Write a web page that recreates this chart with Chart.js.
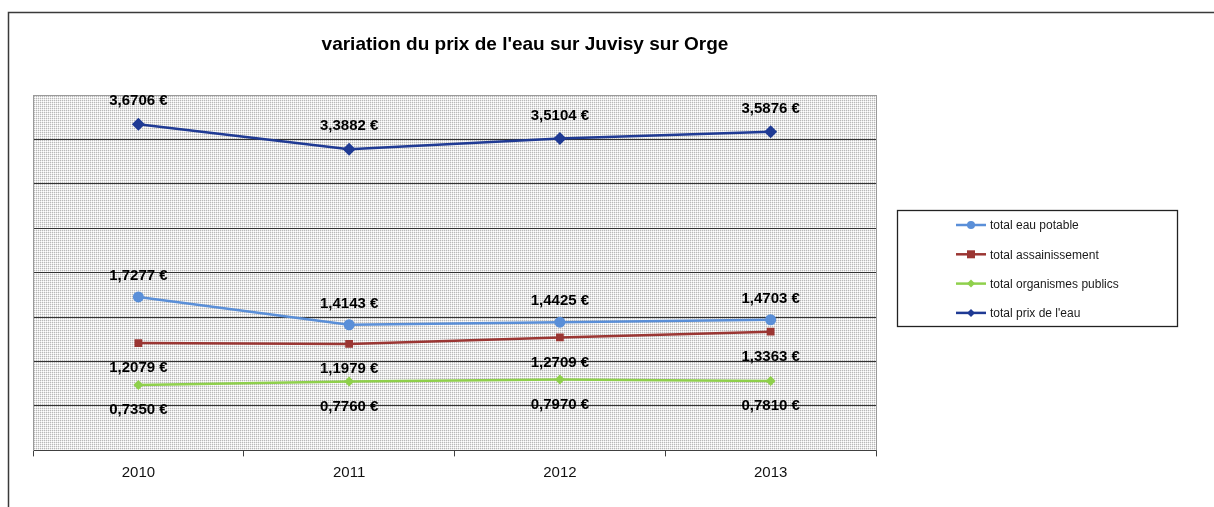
<!DOCTYPE html>
<html>
<head>
<meta charset="utf-8">
<script src="https://cdn.jsdelivr.net/npm/chart.js@4"></script>
<style>
  html, body { margin: 0; padding: 0; background: #ffffff; }
  #wrap { width: 1214px; height: 507px; position: relative; }
</style>
</head>
<body>
<div id="wrap"><canvas id="c" width="1214" height="507"></canvas></div>
<script>
const years = ['2010', '2011', '2012', '2013'];
const eauPotable = [1.7277, 1.4143, 1.4425, 1.4703];
const assainissement = [1.2079, 1.1979, 1.2709, 1.3363];
const organismes = [0.7350, 0.7760, 0.7970, 0.7810];
const prixTotal = [3.6706, 3.3882, 3.5104, 3.5876];
const seriesNames = ['total eau potable', 'total assainissement', 'total organismes publics', "total prix de l'eau"];
const yTicks = [0, 0.5, 1, 1.5, 2, 2.5, 3, 3.5, 4];
const titleText = "variation du prix de l'eau sur Juvisy sur Orge";

const FONT = '"Liberation Sans", Arial, sans-serif';

// fine grey stipple used as the plot background
function makeStipple() {
  const t = document.createElement('canvas');
  t.width = 2; t.height = 2;
  const g = t.getContext('2d');
  g.fillStyle = '#ffffff'; g.fillRect(0, 0, 2, 2);
  g.fillStyle = '#b8b8b8'; g.fillRect(0, 0, 1, 1);
  g.fillStyle = '#e8e8e8'; g.fillRect(1, 0, 1, 1); g.fillRect(0, 1, 1, 1);
  return t;
}

const fmt = v => v.toFixed(4).replace('.', ',') + ' €';

const decorations = {
  id: 'decorations',
  beforeDraw(chart) {
    const { ctx, chartArea: a } = chart;
    ctx.save();
    ctx.fillStyle = ctx.createPattern(makeStipple(), 'repeat');
    ctx.fillRect(a.left, a.top, a.right - a.left, a.bottom - a.top);
    ctx.restore();
  },
  afterDatasetsDraw(chart) {
    const { ctx, chartArea: a } = chart;
    ctx.save();
    // right edge of the plot
    ctx.strokeStyle = '#9a9a9a';
    ctx.lineWidth = 1;
    ctx.beginPath();
    ctx.moveTo(a.right + 0.5, a.top);
    ctx.lineTo(a.right + 0.5, a.bottom);
    ctx.stroke();

    // value labels: above for eau potable and total, below for the others
    ctx.font = 'bold 15px ' + FONT;
    ctx.fillStyle = '#000000';
    ctx.textAlign = 'center';
    ctx.textBaseline = 'middle';
    const offsets = [-21, 25, 25, -23];
    chart.data.datasets.forEach((ds, i) => {
      const meta = chart.getDatasetMeta(i);
      meta.data.forEach((pt, j) => {
        ctx.fillText(fmt(ds.data[j]), pt.x, pt.y + offsets[i]);
      });
    });

    // title
    ctx.font = 'bold 19px ' + FONT;
    ctx.fillText(titleText, 525, 45);

    // outer frame
    ctx.strokeStyle = '#3a3a3a';
    ctx.lineWidth = 1.5;
    ctx.beginPath();
    ctx.moveTo(8.5, 507);
    ctx.lineTo(8.5, 12.5);
    ctx.lineTo(1214, 12.5);
    ctx.stroke();

    // legend box
    const lx = 897, ly = 210, lw = 280, lh = 116;
    ctx.strokeStyle = '#222222';
    ctx.lineWidth = 1.3;
    ctx.strokeRect(lx + 0.5, ly + 0.5, lw, lh);
    ctx.font = '12px ' + FONT;
    ctx.textAlign = 'left';
    chart.data.datasets.forEach((ds, i) => {
      const y = 225 + i * 29.3;
      ctx.strokeStyle = ds.borderColor;
      ctx.lineWidth = 2.5;
      ctx.beginPath();
      ctx.moveTo(956, y);
      ctx.lineTo(986, y);
      ctx.stroke();
      ctx.fillStyle = ds.pointBackgroundColor;
      const r = 4;
      ctx.beginPath();
      if (ds.pointStyle === 'circle') {
        ctx.arc(971, y, r, 0, Math.PI * 2);
      } else if (ds.pointStyle === 'rect') {
        ctx.rect(971 - r, y - r, 2 * r, 2 * r);
      } else {
        ctx.moveTo(971, y - r); ctx.lineTo(971 + r, y);
        ctx.lineTo(971, y + r); ctx.lineTo(971 - r, y);
        ctx.closePath();
      }
      ctx.fill();
      ctx.fillStyle = '#1a1a1a';
      ctx.fillText(ds.label, 990, y + 1);
    });
    ctx.restore();
  }
};

const colors = ['#5a8fd8', '#9b3633', '#8fd04c', '#1f3a94'];
const styles = ['circle', 'rect', 'rectRot', 'rectRot'];
const radii = [5.5, 5.5, 5, 6.5];
const values = [eauPotable, assainissement, organismes, prixTotal];

new Chart(document.getElementById('c'), {
  type: 'line',
  data: {
    labels: years,
    datasets: values.map((d, i) => ({
      label: seriesNames[i],
      data: d,
      borderColor: colors[i],
      backgroundColor: colors[i],
      pointBackgroundColor: colors[i],
      pointBorderColor: colors[i],
      pointStyle: styles[i],
      pointRadius: radii[i],
      pointBorderWidth: 0,
      borderWidth: 2.5,
      tension: 0
    }))
  },
  options: {
    responsive: false,
    animation: false,
    events: [],
    layout: { padding: { left: 33, right: 338, top: 95, bottom: 18.6 } },
    plugins: { legend: { display: false }, title: { display: false }, tooltip: { enabled: false } },
    scales: {
      x: {
        offset: true,
        grid: { offset: true, drawOnChartArea: false, drawTicks: true, tickLength: 6, color: '#404040' },
        border: { color: '#404040', width: 1 },
        ticks: { color: '#111111', font: { family: FONT, size: 15 }, padding: 7 }
      },
      y: {
        min: 0, max: 4,
        afterBuildTicks: s => { s.ticks = yTicks.map(v => ({ value: v })); },
        ticks: { display: false },
        grid: {
          drawTicks: false,
          color: c => (c.tick && c.tick.value === 4) ? '#9a9a9a' : '#333333',
          lineWidth: 1
        },
        border: { color: '#9a9a9a', width: 1 }
      }
    }
  },
  plugins: [decorations]
});
</script>
</body>
</html>
